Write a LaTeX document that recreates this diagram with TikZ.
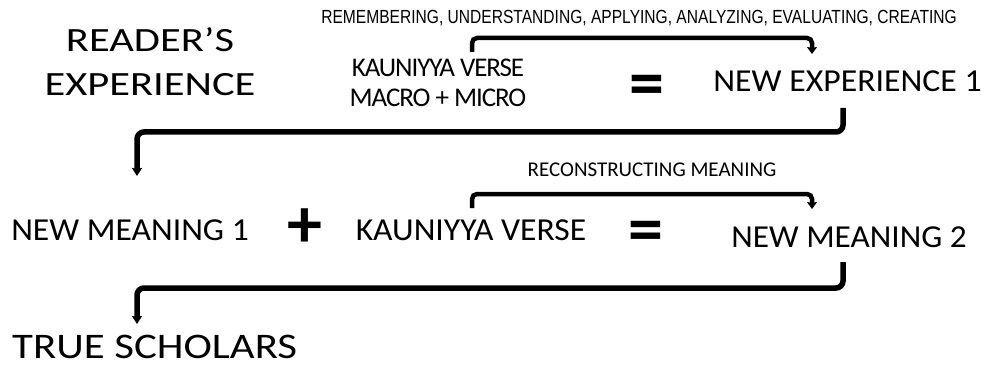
\documentclass[tikz,border=0pt]{standalone}
\usepackage{fontspec}
\usepackage{graphicx}
\setmainfont{Carlito}
\newfontfamily\narrowfont[FakeStretch=0.82]{Liberation Sans}
\newfontfamily\condfont[LetterSpace=-4]{Carlito}
\usetikzlibrary{arrows.meta}
\newcommand{\sxt}[2]{\scalebox{#1}[1]{#2}}
\begin{document}
\begin{tikzpicture}[x=1pt,y=-1pt,
  big/.style={font=\fontsize{32}{36}\selectfont, inner sep=0pt, anchor=base},
  head/.style={font=\fontsize{34}{44}\selectfont, inner sep=0pt, align=center},
  small/.style={font=\condfont\fontsize{27}{30}\selectfont, inner sep=0pt, align=center},
  tiny/.style={font=\narrowfont\fontsize{19}{22}\selectfont, inner sep=0pt, anchor=base},
  label/.style={font=\fontsize{21}{24}\selectfont, inner sep=0pt, anchor=base},
  bracket/.style={line width=4.5pt, rounded corners=5pt, -{Stealth[length=7pt,width=10pt,inset=1pt]}},
  flow/.style={line width=5.5pt, rounded corners=7pt, -{Stealth[length=8pt,width=10pt,inset=1pt]}},
  sym/.style={font=\fontsize{70}{72}\selectfont\bfseries, inner sep=0pt}]
\useasboundingbox (0,0) rectangle (984,374);
% row 1
\node[head] (reader) at (150,61.5) {\sxt{1.25}{READER’S}\\\sxt{1.25}{EXPERIENCE}};
\node[small] (kv1) at (438,82.5) {KAUNIYYA VERSE\\MACRO + MICRO};
\node[sym] (eq1) at (647,91) {=};
\node[big] (ne1) at (847.5,92) {\sxt{1.055}{NEW EXPERIENCE 1}};
\node[tiny] (bloom) at (639,24) {REMEMBERING, UNDERSTANDING, APPLYING, ANALYZING, EVALUATING, CREATING};
\coordinate (b1s) at (472,52);
\coordinate (b1e) at (812,54);
\draw[bracket] (b1s) |- (642,38) -| (b1e);
% connector 1
\coordinate (c1s) at (843,108);
\coordinate (c1e) at (137,176);
\draw[flow] (c1s) |- (490,132) -| (c1e);
% row 2
\node[big] (nm1) at (130,240) {\sxt{1.05}{NEW MEANING 1}};
\node[sym] (plus) at (305,228) {+};
\node[big] (kv2) at (471,240) {\sxt{1.05}{KAUNIYYA VERSE}};
\node[sym] (eq2) at (646,237) {=};
\node[big] (nm2) at (849,247) {\sxt{1.04}{NEW MEANING 2}};
\node[label] (recon) at (652,177) {RECONSTRUCTING MEANING};
\coordinate (b2s) at (472,208);
\coordinate (b2e) at (812,209);
\draw[bracket] (b2s) |- (642,194) -| (b2e);
% connector 2
\coordinate (c2s) at (843,262);
\coordinate (c2e) at (137,324);
\draw[flow] (c2s) |- (490,288) -| (c2e);
% row 3
\node[font=\fontsize{36}{40}\selectfont, inner sep=0pt, anchor=base west] (ts) at (12,358) {\sxt{1.19}{TRUE SCHOLARS}};
\end{tikzpicture}
\end{document}
